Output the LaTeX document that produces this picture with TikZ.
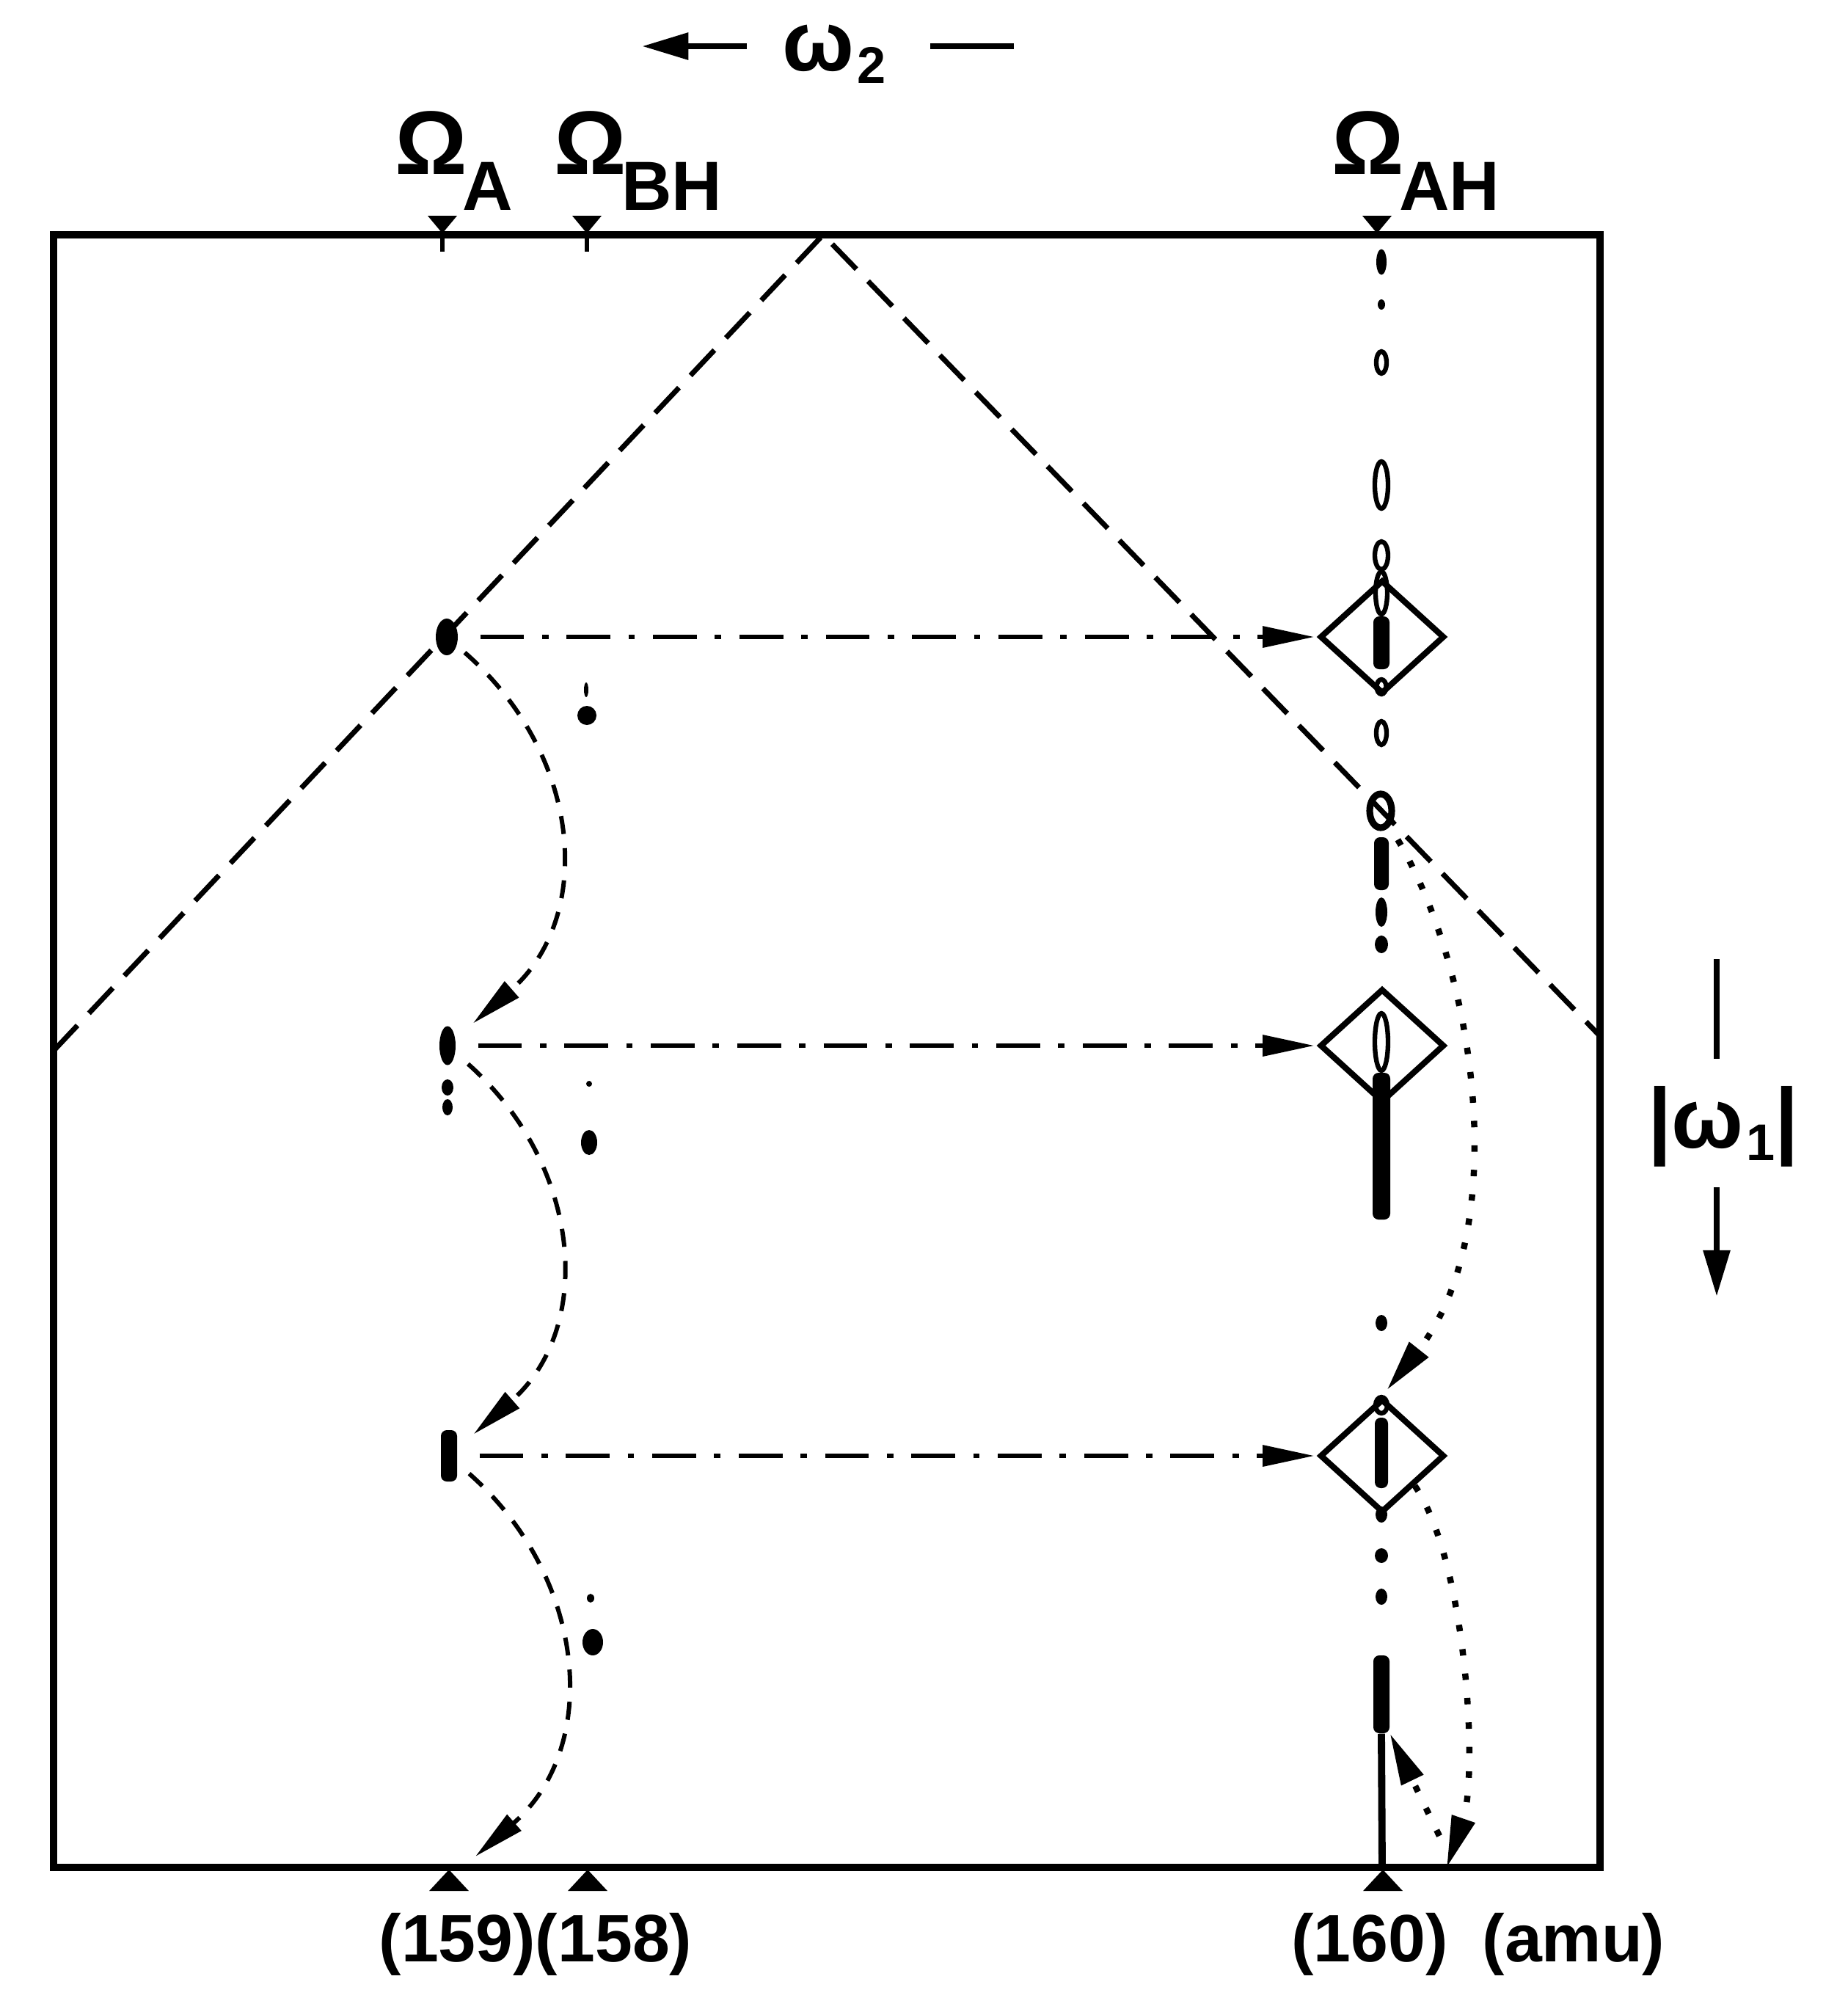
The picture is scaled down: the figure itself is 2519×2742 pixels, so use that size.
\documentclass[tikz,border=0pt]{standalone}
\usepackage{fontspec}
\setmainfont{Liberation Sans}
\usetikzlibrary{arrows.meta,shapes.geometric}

\newcommand{\osub}[1]{\kern-2pt\raisebox{-14pt}{\fontsize{27}{30}\selectfont #1}}
\newcommand{\wsub}[1]{\kern1pt\raisebox{-5pt}{\fontsize{20}{22}\selectfont #1}}

\tikzset{
  boxline/.style={line width=2.8pt},
  vee/.style={line width=2pt, dash pattern=on 13.5pt off 6.5pt},
  xfer/.style={line width=1.7pt, dash pattern=on 17pt off 7pt on 2.5pt off 7pt, -{Triangle[length=20pt,width=8pt]}},
  relay/.style={line width=1.7pt, dash pattern=on 7pt off 5.5pt, -{Triangle[length=20pt,width=8pt]}},
  hop/.style={line width=2.4pt, dash pattern=on 2.5pt off 7pt, -{Triangle[length=20pt,width=9pt]}},
  axarr/.style={line width=2.5pt, -{Triangle[length=18pt,width=10pt]}},
  sq/.style={diamond, draw, line width=2.3pt, inner sep=0pt, minimum width=17mm, minimum height=15.5mm},
  blob/.style={ellipse, fill, inner sep=0pt},
  ring/.style={ellipse, draw, line width=1.8pt, inner sep=0pt},
  bar/.style={rectangle, fill, inner sep=0pt, rounded corners=0.8mm},
  sz/.style 2 args={minimum width=#1mm, minimum height=#2mm},
  lbl/.style={font=\fontsize{35}{40}\selectfont\bfseries, inner sep=0pt},
  wlbl/.style={font=\fontsize{33}{38}\selectfont\bfseries, inner sep=0pt},
  num/.style={font=\fontsize{26}{30}\selectfont\bfseries, inner sep=0pt},
}

\begin{document}
\begin{tikzpicture}[x=0.1mm,y=-0.1mm]
  \useasboundingbox (0,0) rectangle (2519,2742);

  % frame and axis ticks
  \draw[boxline] (73,320) rectangle (2181,2545);
  \fill (603,318) -- ++(-20,-24) -- ++(40,0) -- cycle;
  \fill (800,318) -- ++(-20,-24) -- ++(40,0) -- cycle;
  \fill (1877,318) -- ++(-20,-24) -- ++(40,0) -- cycle;
  \draw[line width=1.5pt] (603,318) -- (603,343);
  \draw[line width=1.5pt] (800,318) -- (800,343);
  \fill (612,2548) -- ++(-27,29) -- ++(54,0) -- cycle;
  \fill (801,2548) -- ++(-27,29) -- ++(54,0) -- cycle;
  \fill (1885,2548) -- ++(-27,29) -- ++(54,0) -- cycle;

  % labels
  \node[lbl, anchor=base west] (oA) at (538,237) {Ω\osub{A}};
  \node[lbl, anchor=base west] (oBH) at (755,237) {Ω\osub{BH}};
  \node[lbl, anchor=base west] (oAH) at (1815,237) {Ω\osub{AH}};
  \node[num, anchor=base] (m159) at (730,2673) {(159)(158)};
  \node[num, anchor=base] (m160) at (1867,2673) {(160)};
  \node[num, anchor=base] (amu) at (2145,2673) {(amu)};

  \node[wlbl, anchor=base] (w2) at (1137,96) {ω\wsub{2}};
  \coordinate (w2a) at (875,63);
  \coordinate (w2b) at (1018,63);
  \coordinate (w2c) at (1268,63);
  \coordinate (w2d) at (1382,63);
  \draw[axarr] (w2b) -- (w2a);
  \draw[line width=2.5pt] (w2c) -- (w2d);

  \node[wlbl, anchor=base] (w1) at (2349,1564) {|ω\wsub{1}|};
  \coordinate (w1a) at (2340,1307);
  \coordinate (w1b) at (2340,1443);
  \coordinate (w1c) at (2340,1618);
  \coordinate (w1d) at (2340,1767);
  \draw[line width=2.5pt] (w1a) -- (w1b);
  \draw[axarr] (w1c) -- (w1d);

  % diagonal
  \coordinate (apex) at (1122,320);
  \coordinate (vl) at (73,1432);
  \coordinate (vr) at (2181,1412);
  \draw[vee] (vl) -- (apex) -- (vr);

  % diamonds
  \node[sq] (d1) at (1884,868) {};
  \node[sq] (d2) at (1884,1425) {};
  \node[sq] (d3) at (1884,1984) {};

  % peaks at A
  \node[blob, sz={3.0}{5.0}] (pa1) at (609,868) {};
  \node[blob, sz={2.2}{5.3}] (pa2) at (610,1425) {};
  \node[blob, sz={1.6}{2.2}] (pa2b) at (610,1482) {};
  \node[blob, sz={1.4}{2.2}] (pa2c) at (610,1509) {};
  \node[bar, sz={2.2}{7.0}] (pa3) at (612,1984) {};

  % peaks at BH
  \node[blob, sz={0.6}{2.0}] (b1t) at (799,940) {};
  \node[blob, sz={2.6}{2.6}] (b1) at (800,975) {};
  \node[blob, sz={0.8}{0.8}] (b2t) at (803,1477) {};
  \node[blob, sz={2.2}{3.4}] (b2) at (803,1557) {};
  \node[blob, sz={1.0}{1.2}] (b3t) at (805,2178) {};
  \node[blob, sz={2.8}{3.6}] (b3) at (808,2238) {};

  % peaks at AH
  \node[blob, sz={1.4}{3.5}] (h1) at (1883,357) {};
  \node[blob, sz={1.0}{1.4}] (h2) at (1883,415) {};
  \node[ring, sz={1.4}{3.0}] (h3) at (1883,494) {};
  \node[ring, sz={1.8}{6.4}] (h4) at (1883,661) {};
  \node[ring, sz={1.8}{3.8}] (h5) at (1883,757) {};
  \node[ring, sz={1.6}{5.8}] (h6) at (1883,808) {};
  \node[bar, sz={2.2}{7.2}] (h7) at (1883,876) {};
  \node[ring, sz={1.3}{2.0}] (h8) at (1883,936) {};
  \node[ring, sz={1.4}{3.2}] (h9) at (1883,999) {};
  \node[ring, line width=2.6pt, sz={3.0}{4.6}] (x1) at (1882,1105) {};
  \node[bar, sz={2.0}{7.2}] (h10) at (1883,1177) {};
  \node[blob, sz={1.6}{4.0}] (h11) at (1883,1243) {};
  \node[blob, sz={1.8}{2.4}] (h12) at (1883,1287) {};
  \node[ring, sz={1.8}{7.8}] (h13) at (1883,1420) {};
  \node[bar, sz={2.4}{20}] (h14) at (1883,1562) {};
  \node[blob, sz={1.6}{2.2}] (h15) at (1883,1803) {};
  \node[ring, sz={1.6}{2.2}] (h16) at (1883,1915) {};
  \node[bar, sz={1.8}{9.6}] (h17) at (1883,1980) {};
  \node[blob, sz={1.6}{2.2}] (h18) at (1883,2064) {};
  \node[blob, sz={1.8}{2.0}] (h19) at (1883,2120) {};
  \node[blob, sz={1.6}{2.2}] (h20) at (1883,2176) {};
  \node[bar, sz={2.2}{10.6}] (hb3) at (1883,2309) {};
  \coordinate (t160) at (1884,2545);
  \draw[line width=2.8pt] (hb3.south) -- (t160);

  % transfers
  \draw[xfer, shorten <=8.5pt, shorten >=1pt] (pa1.east) -- (d1.west);
  \draw[xfer, shorten <=8.5pt, shorten >=1pt] (pa2.east) -- (d2.west);
  \draw[xfer, shorten <=8.5pt, shorten >=1pt] (pa3.east) -- (d3.west);

  \coordinate (c3end) at (648,2530);
  \draw[relay, shorten <=4pt, shorten >=9pt] (pa1) .. controls (795,1030) and (810,1250) .. (pa2);
  \draw[relay, shorten <=6.5pt, shorten >=8.3pt] (pa2) .. controls (795,1590) and (810,1810) .. (pa3);
  \draw[relay, shorten <=6pt] (pa3) .. controls (800,2150) and (820,2380) .. (c3end);

  \coordinate (bot) at (1972,2545);
  \coordinate (ret) at (1962,2502);
  \draw[hop, shorten <=6pt, shorten >=3pt] (x1) .. controls (2015,1330) and (2060,1680) .. (d3.north);
  \draw[hop] (d3.south east) .. controls (2000,2130) and (2015,2420) .. (bot);
  \draw[hop] (ret) -- (hb3.south east);
\end{tikzpicture}
\end{document}
